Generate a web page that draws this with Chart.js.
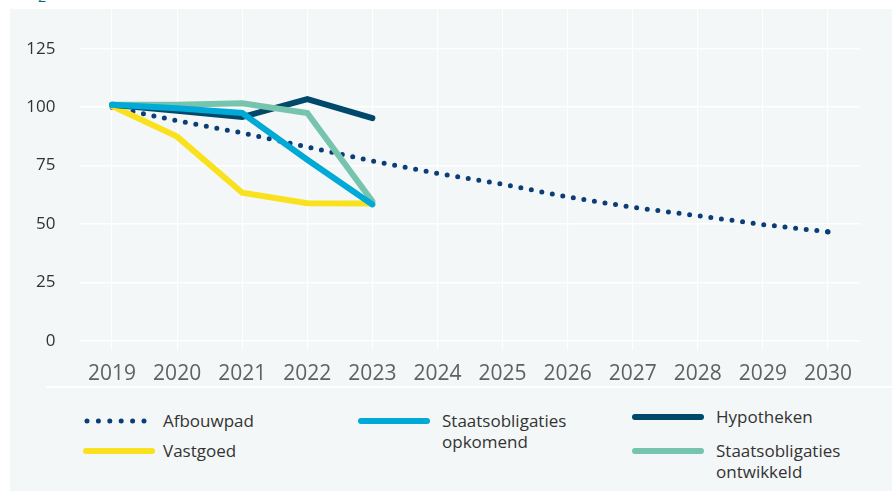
<!DOCTYPE html>
<html>
<head>
<meta charset="utf-8">
<script src="https://cdn.jsdelivr.net/npm/chart.js@4.4.1/dist/chart.umd.min.js"></script>
<style>
    body { margin: 0; background: #ffffff; width: 892px; height: 494px; overflow: hidden; font-family: "Open Sans", sans-serif; }
    .panel { position: absolute; left: 10px; top: 9px; width: 882px; height: 482px; background: #f3f7f7; }
    .mark { position: absolute; left: 38px; top: -13px; font-size: 14px; color: #0b6b78; }
    #chartWrap { position: absolute; left: 0; top: 0; width: 892px; height: 392px; }
    .separator { position: absolute; left: 46px; top: 386px; width: 846px; height: 2px; background: #ffffff; }
    .legend-item { position: absolute; display: flex; align-items: flex-start; font-size: 17px; color: #333; line-height: 21px; }
    .legend-item svg { flex: none; }
</style>
</head>
<body>
<div class="panel"></div>
<div class="mark">2</div>
<div id="chartWrap"><canvas id="pathChart"></canvas></div>
<div class="separator"></div>
<div id="legend"></div>

<script>
// Chart data
const years = ['2019', '2020', '2021', '2022', '2023', '2024', '2025', '2026', '2027', '2028', '2029', '2030'];
const afbouwpad = [100, 94.2, 89, 83, 77, 71.7, 67.1, 61.6, 57.2, 53.6, 49.8, 46.7];
const vastgoed = [100.5, 87.4, 63.4, 58.9, 58.8];
const opkomend = [101, 99.5, 97.5, 77.5, 58.4];
const hypotheken = [101, 98.5, 95.8, 103.5, 95.3];
const ontwikkeld = [101, 101, 101.7, 97.5, 59.8];
const yTicks = [0, 25, 50, 75, 100, 125];

// Where each legend entry sits (left, top, gap before text)
const legendSlots = [[83, 410, 8], [83, 440, 8], [358, 410, 12], [632, 406, 12], [632, 440, 12]];

document.addEventListener('DOMContentLoaded', function() {
    const chart = initializeChart();
    fitDots(chart);
    buildLegend(chart);
});

function initializeChart() {
    const ctx = document.getElementById('pathChart');

    const datasets = [
        { label: 'Afbouwpad', data: afbouwpad, borderColor: '#0b3d78', borderWidth: 5,
          borderDash: [0, 10.7], borderCapStyle: 'round', order: 4,
          // a dot on the final year so the path ends on 2030
          pointRadius: ctx => ctx.dataIndex === afbouwpad.length - 1 ? 2.6 : 0,
          pointBackgroundColor: '#0b3d78', pointBorderWidth: 0 },
        { label: 'Vastgoed', data: vastgoed, borderColor: '#f9e11e', borderWidth: 6, order: 3 },
        { label: 'Staatsobligaties\nopkomend', data: opkomend, borderColor: '#01a9d6', borderWidth: 6, order: 0 },
        { label: 'Hypotheken', data: hypotheken, borderColor: '#01496b', borderWidth: 6, order: 2 },
        { label: 'Staatsobligaties\nontwikkeld', data: ontwikkeld, borderColor: '#76c4ae', borderWidth: 6, order: 1 }
    ];
    datasets.forEach(ds => {
        if (ds.pointRadius === undefined) ds.pointRadius = 0;
        ds.pointHoverRadius = 0;
        ds.tension = 0;
        ds.fill = false;
        if (!ds.borderCapStyle) ds.borderCapStyle = 'round';
    });

    return new Chart(ctx, {
        type: 'line',
        data: { labels: years, datasets: datasets },
        options: {
            responsive: true,
            maintainAspectRatio: false,
            animation: false,
            layout: { padding: { top: 9, right: 31.5, bottom: 5, left: 0 } },
            plugins: {
                legend: { display: false },
                tooltip: { enabled: false }
            },
            scales: {
                x: {
                    offset: true,
                    border: { display: false },
                    grid: { offset: false, color: '#ffffff', lineWidth: 1.2, tickLength: 9, tickColor: '#ffffff' },
                    ticks: {
                        color: '#616161',
                        padding: 11,
                        maxRotation: 0,
                        font: { family: 'Open Sans', size: 21 }
                    },
                    afterFit: function(scale) {
                        scale.height = 46;
                        scale.paddingLeft = 0;
                        scale.paddingRight = 0;
                    }
                },
                y: {
                    min: 0,
                    max: 142,
                    border: { display: false },
                    grid: { color: '#ffffff', lineWidth: 1.5, drawTicks: false },
                    ticks: {
                        color: '#333333',
                        padding: 24,
                        font: { family: 'Open Sans', size: 17 }
                    },
                    afterBuildTicks: function(scale) {
                        scale.ticks = yTicks.map(v => ({ value: v }));
                    },
                    afterFit: function(scale) {
                        scale.width = 79.5;
                        scale.paddingTop = 0;
                        scale.paddingBottom = 0;
                    }
                }
            }
        }
    });
}

// Stretch the dot spacing so the dots run evenly to the end of the path
function fitDots(chart) {
    chart.data.datasets.forEach((ds, i) => {
        if (!ds.borderDash) return;
        const pts = chart.getDatasetMeta(i).data;
        let len = 0;
        for (let k = 1; k < pts.length; k++) {
            len += Math.hypot(pts[k].x - pts[k - 1].x, pts[k].y - pts[k - 1].y);
        }
        const n = Math.round(len / ds.borderDash[1]);
        ds.borderDash = [0, (len - 0.5) / n];
    });
    chart.update('none');
}

// HTML legend built from the chart's datasets
function buildLegend(chart) {
    const box = document.getElementById('legend');
    chart.data.datasets.forEach((ds, i) => {
        const item = document.createElement('div');
        item.className = 'legend-item';
        item.style.left = legendSlots[i][0] + 'px';
        item.style.top = legendSlots[i][1] + 'px';
        const dash = ds.borderDash ? 'stroke-dasharray="0 11.4"' : '';
        const w = ds.borderDash ? 5 : 6;
        const x1 = ds.borderDash ? 4 : 3;
        const x2 = ds.borderDash ? 62 : 69;
        item.innerHTML =
            '<svg width="72" height="22"><line x1="' + x1 + '" y1="11" x2="' + x2 + '" y2="11" stroke="' +
            ds.borderColor + '" stroke-width="' + w + '" stroke-linecap="round" ' + dash + '/></svg>' +
            '<span style="margin-left:' + legendSlots[i][2] + 'px">' + ds.label.replace('\n', '<br>') + '</span>';
        box.appendChild(item);
    });
}
</script>
</body>
</html>
